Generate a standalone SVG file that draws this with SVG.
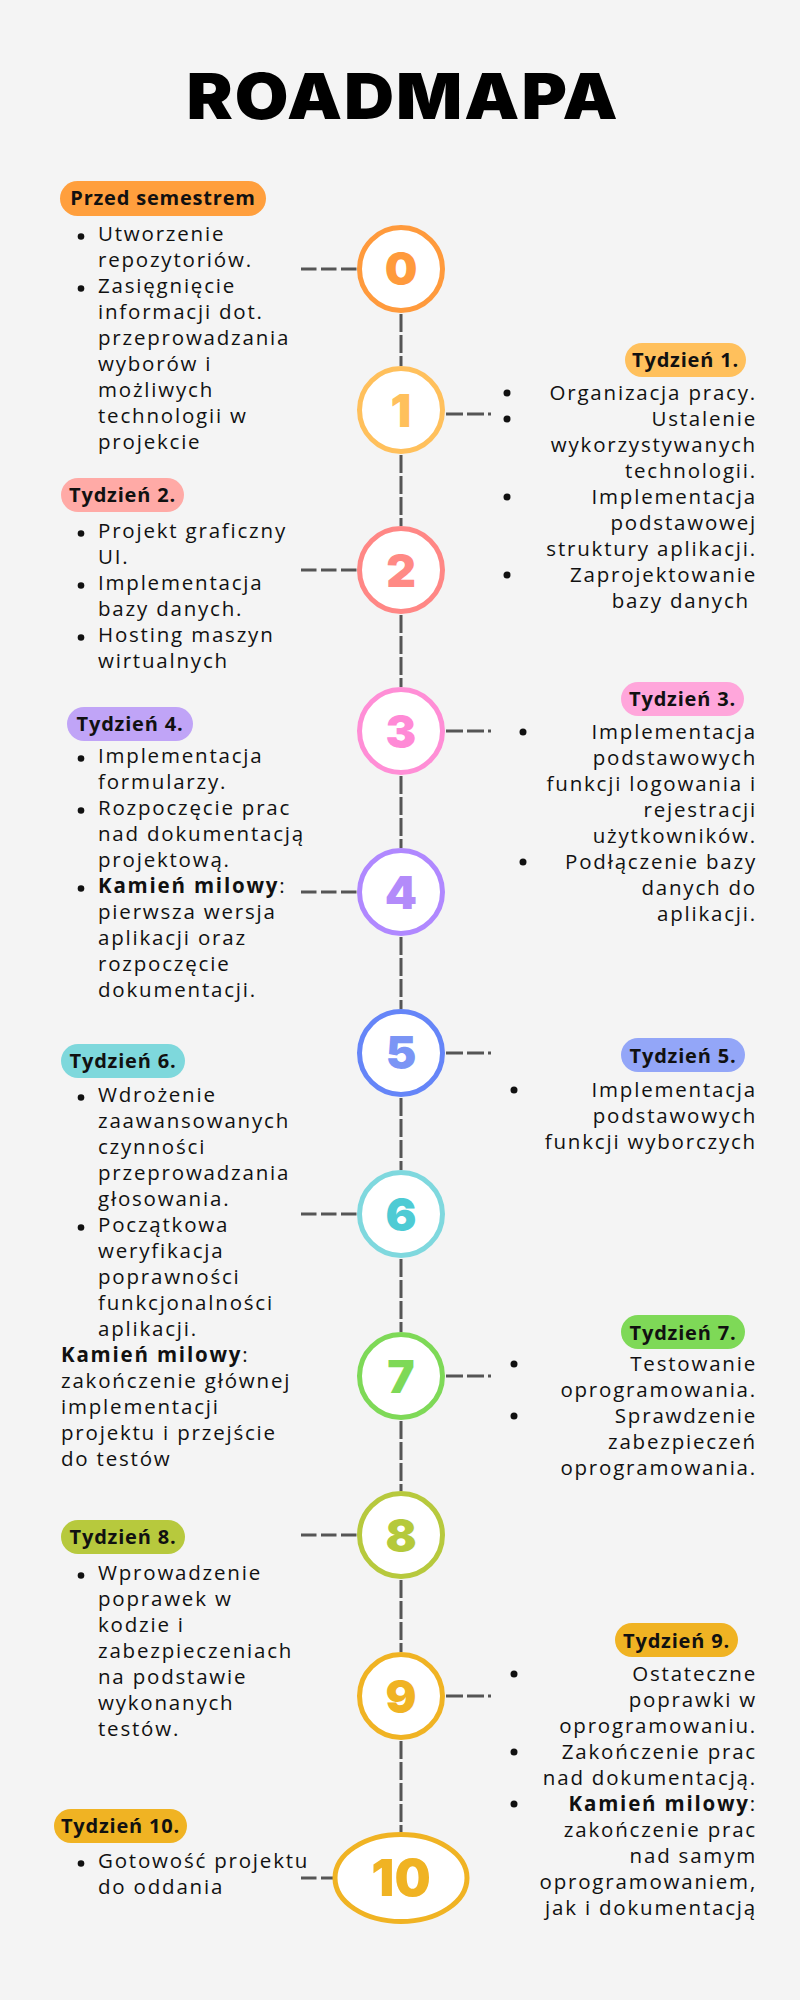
<svg xmlns="http://www.w3.org/2000/svg" width="800" height="2000" viewBox="0 0 800 2000">
<style>
.bg{fill:#F4F4F4}
.title{font-family:Inter,"Liberation Sans",sans-serif;font-weight:900;font-size:63px;fill:#000;text-anchor:middle}
.tx{font-family:"Open Sans","Liberation Sans",sans-serif;font-size:20.5px;letter-spacing:1.8px;fill:#111}
.r{text-anchor:end}
.b{font-weight:700}
.pl{font-family:"Open Sans","Liberation Sans",sans-serif;font-weight:700;font-size:20px;letter-spacing:0.8px;fill:#111;text-anchor:middle}
.num{font-family:Inter,"Liberation Sans",sans-serif;font-weight:900;font-size:46px;text-anchor:middle}
.ring{fill:#fff;stroke-width:5}
.dot{fill:#111}
.h{stroke:#555;stroke-width:3.2;stroke-dasharray:15.5 4.5;fill:none}
.hr{stroke:#555;stroke-width:3.2;stroke-dasharray:17 4;fill:none}
.v{stroke:#555;stroke-width:3;stroke-dasharray:18 3;fill:none}
</style>
<rect class="bg" x="0" y="0" width="800" height="2000"/>
<g id="title"><text class="title" transform="scale(1.1,1)" x="365.5" y="119" textLength="392" lengthAdjust="spacing">ROADMAPA</text></g>

<g id="connectors">
<line class="v" x1="401" y1="314" x2="401" y2="366"/>
<line class="v" x1="401" y1="455" x2="401" y2="526"/>
<line class="v" x1="401" y1="615" x2="401" y2="687"/>
<line class="v" x1="401" y1="776" x2="401" y2="848"/>
<line class="v" x1="401" y1="937" x2="401" y2="1009"/>
<line class="v" x1="401" y1="1098" x2="401" y2="1170"/>
<line class="v" x1="401" y1="1259" x2="401" y2="1332"/>
<line class="v" x1="401" y1="1421" x2="401" y2="1491"/>
<line class="v" x1="401" y1="1580" x2="401" y2="1652"/>
<line class="v" x1="401" y1="1741" x2="401" y2="1832"/>
<line class="h" x1="301" y1="269" x2="357" y2="269"/>
<line class="hr" x1="446" y1="414" x2="491" y2="414"/>
<line class="h" x1="301" y1="570" x2="357" y2="570"/>
<line class="hr" x1="446" y1="731" x2="491" y2="731"/>
<line class="h" x1="301" y1="892" x2="357" y2="892"/>
<line class="hr" x1="446" y1="1053" x2="491" y2="1053"/>
<line class="h" x1="301" y1="1214" x2="357" y2="1214"/>
<line class="hr" x1="446" y1="1376" x2="491" y2="1376"/>
<line class="h" x1="301" y1="1535" x2="357" y2="1535"/>
<line class="hr" x1="446" y1="1696" x2="491" y2="1696"/>
<line class="h" x1="301" y1="1878" x2="333" y2="1878"/>
</g>

<g id="node-0">
<circle class="ring" cx="401" cy="269" r="41.5" stroke="#FF9A3C"/>
<text class="num" x="401" y="285" fill="#FF9A3C">0</text>
<rect x="60" y="181" width="206" height="35" rx="17.5" fill="#FF9F3D"/>
<text class="pl" x="163" y="205">Przed semestrem</text>
<circle class="dot" cx="81" cy="236.5" r="3.3"/><circle class="dot" cx="81" cy="288.5" r="3.3"/>
<text class="tx"><tspan x="98" y="241">Utworzenie</tspan><tspan x="98" y="267">repozytoriów.</tspan><tspan x="98" y="293">Zasięgnięcie</tspan><tspan x="98" y="319">informacji dot.</tspan><tspan x="98" y="345">przeprowadzania</tspan><tspan x="98" y="371">wyborów i</tspan><tspan x="98" y="397">możliwych</tspan><tspan x="98" y="423">technologii w</tspan><tspan x="98" y="449">projekcie</tspan></text>
</g>

<g id="node-1">
<circle class="ring" cx="401" cy="410" r="41.5" stroke="#FFC05C"/>
<text class="num" x="401" y="427" fill="#FFC05C">1</text>
<rect x="625" y="343" width="121" height="34" rx="17" fill="#FFC05C"/>
<text class="pl" x="685.5" y="367">Tydzień 1.</text>
<circle class="dot" cx="507" cy="393" r="3.5"/><circle class="dot" cx="507" cy="419" r="3.5"/><circle class="dot" cx="507" cy="497" r="3.5"/><circle class="dot" cx="507" cy="575" r="3.5"/>
<text class="tx r"><tspan x="757" y="400">Organizacja pracy.</tspan><tspan x="757" y="426">Ustalenie</tspan><tspan x="757" y="452">wykorzystywanych</tspan><tspan x="757" y="478">technologii.</tspan><tspan x="757" y="504">Implementacja</tspan><tspan x="757" y="530">podstawowej</tspan><tspan x="757" y="556">struktury aplikacji.</tspan><tspan x="757" y="582">Zaprojektowanie</tspan><tspan x="757" y="608">bazy danych&#160;</tspan></text>
</g>

<g id="node-2">
<circle class="ring" cx="401" cy="570" r="41.5" stroke="#FF8785"/>
<text class="num" x="401" y="587" fill="#FF8A85">2</text>
<rect x="61" y="478" width="123" height="34" rx="17" fill="#FFAAA6"/>
<text class="pl" x="122.5" y="502">Tydzień 2.</text>
<circle class="dot" cx="81" cy="533.5" r="3.3"/><circle class="dot" cx="81" cy="585.5" r="3.3"/><circle class="dot" cx="81" cy="637.5" r="3.3"/>
<text class="tx"><tspan x="98" y="538">Projekt graficzny</tspan><tspan x="98" y="564">UI.</tspan><tspan x="98" y="590">Implementacja</tspan><tspan x="98" y="616">bazy danych.</tspan><tspan x="98" y="642">Hosting maszyn</tspan><tspan x="98" y="668">wirtualnych</tspan></text>
</g>

<g id="node-3">
<circle class="ring" cx="401" cy="731" r="41.5" stroke="#FF8ED6"/>
<text class="num" x="401" y="748" fill="#FF8AD6">3</text>
<rect x="621" y="682" width="123" height="34" rx="17" fill="#FFA6DB"/>
<text class="pl" x="682.5" y="706">Tydzień 3.</text>
<circle class="dot" cx="523" cy="732" r="3.5"/><circle class="dot" cx="523" cy="862" r="3.5"/>
<text class="tx r"><tspan x="757" y="739">Implementacja</tspan><tspan x="757" y="765">podstawowych</tspan><tspan x="757" y="791">funkcji logowania i</tspan><tspan x="757" y="817">rejestracji</tspan><tspan x="757" y="843">użytkowników.</tspan><tspan x="757" y="869">Podłączenie bazy</tspan><tspan x="757" y="895">danych do</tspan><tspan x="757" y="921">aplikacji.</tspan></text>
</g>

<g id="node-4">
<circle class="ring" cx="401" cy="892" r="41.5" stroke="#B088FF"/>
<text class="num" x="401" y="909" fill="#B38BFA">4</text>
<rect x="67" y="707" width="126" height="34" rx="17" fill="#C0A4F7"/>
<text class="pl" x="130" y="731">Tydzień 4.</text>
<circle class="dot" cx="81" cy="758.5" r="3.3"/><circle class="dot" cx="81" cy="810.5" r="3.3"/><circle class="dot" cx="81" cy="888.5" r="3.3"/>
<text class="tx"><tspan x="98" y="763">Implementacja</tspan><tspan x="98" y="789">formularzy.</tspan><tspan x="98" y="815">Rozpoczęcie prac</tspan><tspan x="98" y="841">nad dokumentacją</tspan><tspan x="98" y="867">projektową.</tspan><tspan x="98" y="893"><tspan class="b">Kamień milowy</tspan>:</tspan><tspan x="98" y="919">pierwsza wersja</tspan><tspan x="98" y="945">aplikacji oraz</tspan><tspan x="98" y="971">rozpoczęcie</tspan><tspan x="98" y="997">dokumentacji.</tspan></text>
</g>

<g id="node-5">
<circle class="ring" cx="401" cy="1053" r="41.5" stroke="#6585F8"/>
<text class="num" x="401" y="1069" fill="#7B95F5">5</text>
<rect x="621" y="1038" width="124" height="34" rx="17" fill="#93A6F8"/>
<text class="pl" x="683" y="1063">Tydzień 5.</text>
<circle class="dot" cx="514" cy="1090" r="3.5"/>
<text class="tx r"><tspan x="757" y="1097">Implementacja</tspan><tspan x="757" y="1123">podstawowych</tspan><tspan x="757" y="1149">funkcji wyborczych</tspan></text>
</g>

<g id="node-6">
<circle class="ring" cx="401" cy="1214" r="41.5" stroke="#7FD8DE"/>
<text class="num" x="401" y="1231" fill="#4ECBD4">6</text>
<rect x="61" y="1044" width="124" height="34" rx="17" fill="#7ED8DC"/>
<text class="pl" x="123" y="1068">Tydzień 6.</text>
<circle class="dot" cx="81" cy="1097.5" r="3.3"/><circle class="dot" cx="81" cy="1227.5" r="3.3"/>
<text class="tx"><tspan x="98" y="1102">Wdrożenie</tspan><tspan x="98" y="1128">zaawansowanych</tspan><tspan x="98" y="1154">czynności</tspan><tspan x="98" y="1180">przeprowadzania</tspan><tspan x="98" y="1206">głosowania.</tspan><tspan x="98" y="1232">Początkowa</tspan><tspan x="98" y="1258">weryfikacja</tspan><tspan x="98" y="1284">poprawności</tspan><tspan x="98" y="1310">funkcjonalności</tspan><tspan x="98" y="1336">aplikacji.</tspan><tspan x="61" y="1362"><tspan class="b">Kamień milowy</tspan>:</tspan><tspan x="61" y="1388">zakończenie głównej</tspan><tspan x="61" y="1414">implementacji</tspan><tspan x="61" y="1440">projektu i przejście</tspan><tspan x="61" y="1466">do testów</tspan></text>
</g>

<g id="node-7">
<circle class="ring" cx="401" cy="1376" r="41.5" stroke="#7ED957"/>
<text class="num" x="401" y="1393" fill="#7ED957">7</text>
<rect x="621" y="1315" width="124" height="34" rx="17" fill="#7ED957"/>
<text class="pl" x="683" y="1340">Tydzień 7.</text>
<circle class="dot" cx="514" cy="1364" r="3.5"/><circle class="dot" cx="514" cy="1416" r="3.5"/>
<text class="tx r"><tspan x="757" y="1371">Testowanie</tspan><tspan x="757" y="1397">oprogramowania.</tspan><tspan x="757" y="1423">Sprawdzenie</tspan><tspan x="757" y="1449">zabezpieczeń</tspan><tspan x="757" y="1475">oprogramowania.</tspan></text>
</g>

<g id="node-8">
<circle class="ring" cx="401" cy="1535" r="41.5" stroke="#B7C93D"/>
<text class="num" x="401" y="1552" fill="#B5C93B">8</text>
<rect x="61" y="1520" width="124" height="34" rx="17" fill="#B7C93D"/>
<text class="pl" x="123" y="1544">Tydzień 8.</text>
<circle class="dot" cx="81" cy="1575.5" r="3.3"/>
<text class="tx"><tspan x="98" y="1580">Wprowadzenie</tspan><tspan x="98" y="1606">poprawek w</tspan><tspan x="98" y="1632">kodzie i</tspan><tspan x="98" y="1658">zabezpieczeniach</tspan><tspan x="98" y="1684">na podstawie</tspan><tspan x="98" y="1710">wykonanych</tspan><tspan x="98" y="1736">testów.</tspan></text>
</g>

<g id="node-9">
<circle class="ring" cx="401" cy="1696" r="41.5" stroke="#F0B323"/>
<text class="num" x="401" y="1713" fill="#F0B323">9</text>
<rect x="615" y="1623" width="123" height="34" rx="17" fill="#F0B323"/>
<text class="pl" x="676.5" y="1648">Tydzień 9.</text>
<circle class="dot" cx="514" cy="1674" r="3.5"/><circle class="dot" cx="514" cy="1752" r="3.5"/><circle class="dot" cx="514" cy="1804" r="3.5"/>
<text class="tx r"><tspan x="757" y="1681">Ostateczne</tspan><tspan x="757" y="1707">poprawki w</tspan><tspan x="757" y="1733">oprogramowaniu.</tspan><tspan x="757" y="1759">Zakończenie prac</tspan><tspan x="757" y="1785">nad dokumentacją.</tspan><tspan x="757" y="1811"><tspan class="b">Kamień milowy</tspan>:</tspan><tspan x="757" y="1837">zakończenie prac</tspan><tspan x="757" y="1863">nad samym</tspan><tspan x="757" y="1889">oprogramowaniem,</tspan><tspan x="757" y="1915">jak i dokumentacją</tspan></text>
</g>

<g id="node-10">
<ellipse class="ring" cx="401" cy="1878" rx="66" ry="43.5" stroke="#F0B323"/>
<text class="num" x="401" y="1896" fill="#F0B323" style="font-size:51px">10</text>
<rect x="54" y="1809" width="133" height="34" rx="17" fill="#F0B323"/>
<text class="pl" x="120.5" y="1833">Tydzień 10.</text>
<circle class="dot" cx="81" cy="1863.5" r="3.3"/>
<text class="tx"><tspan x="98" y="1868">Gotowość projektu</tspan><tspan x="98" y="1894">do oddania</tspan></text>
</g>
</svg>
